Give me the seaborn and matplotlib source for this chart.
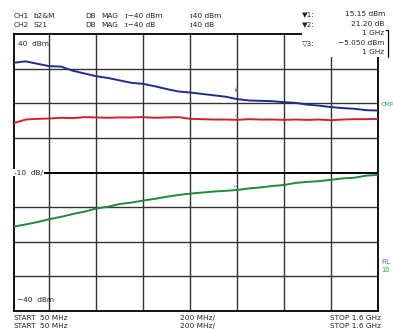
import matplotlib
matplotlib.use("Agg")
import matplotlib.pyplot as plt
import matplotlib.patches as mpatches
import seaborn as sns
import pandas as pd

# Frequency points (MHz)
freq_mhz = [50, 100, 150, 200, 250, 300, 350, 400, 450, 500, 550, 600, 650, 700, 750, 800,
            850, 900, 950, 1000, 1050, 1100, 1150, 1200, 1250, 1300, 1350, 1400, 1450, 1500, 1550, 1600]

# CH2 S21 (dB)
s21_db = [31.7, 32.1, 31.4, 30.7, 30.6, 29.4, 28.6, 27.8, 27.3, 26.6, 25.9, 25.6, 24.9, 24.1, 23.4, 23.1,
          22.7, 22.3, 21.9, 21.2, 20.8, 20.7, 20.6, 20.3, 20.1, 19.6, 19.3, 18.9, 18.6, 18.4, 18.0, 17.9]

# CH1 b2&M (dBm)
b2m_dbm = [14.3, 15.3, 15.5, 15.6, 15.8, 15.7, 16.0, 15.9, 15.8, 15.9, 15.9, 16.0, 15.8, 15.9, 16.0, 15.5,
           15.4, 15.3, 15.3, 15.2, 15.4, 15.3, 15.3, 15.2, 15.3, 15.2, 15.3, 15.1, 15.3, 15.4, 15.4, 15.5]

# memory trace (dBm)
mem_dbm = [-15.6, -15.0, -14.3, -13.5, -12.8, -12.0, -11.3, -10.4, -9.9, -9.1, -8.7, -8.1, -7.6, -7.0, -6.5, -6.1,
           -5.8, -5.5, -5.3, -5.05, -4.6, -4.3, -3.9, -3.6, -3.0, -2.7, -2.5, -2.1, -1.7, -1.5, -0.9, -0.7]

trace_names = ["S21", "b2&M", "MEM"]
trace_colors = ["#1f2d8a", "#d21f2b", "#1e8a3c"]

x_gridlines = [200, 400, 600, 800, 1000, 1200, 1400]
y_gridlines = [-30, -20, -10, 10, 20, 30]

W, H = 393, 329


def fx(px):
    return px / W


def fy(py):
    return 1 - py / H


def main():
    sns.set_theme(style="white")
    plt.rcParams["font.family"] = ["DejaVu Sans"]

    df = pd.concat([
        pd.DataFrame({"freq": freq_mhz, "value": s21_db, "trace": "S21"}),
        pd.DataFrame({"freq": freq_mhz, "value": b2m_dbm, "trace": "b2&M"}),
        pd.DataFrame({"freq": freq_mhz, "value": mem_dbm, "trace": "MEM"}),
    ])

    fig = plt.figure(figsize=(W / 100, H / 100), dpi=100)
    ax = fig.add_axes([fx(14), fy(311), (378 - 14) / W, (311 - 34) / H])

    sns.lineplot(data=df, x="freq", y="value", hue="trace", hue_order=trace_names,
                 palette=trace_colors, linewidth=1.4, legend=False, ax=ax, zorder=3)

    ax.set_xlim(50, 1600)
    ax.set_ylim(-40, 40)
    for xv in x_gridlines:
        ax.axvline(xv, color="#333333", lw=1.0, zorder=1)
    for yv in y_gridlines:
        ax.axhline(yv, color="#333333", lw=1.0, zorder=1)
    ax.axhline(0, color="black", lw=1.4, zorder=1)
    ax.set_xticks([])
    ax.set_yticks([])
    ax.set_xlabel("")
    ax.set_ylabel("")
    for sp in ax.spines.values():
        sp.set_color("black")
        sp.set_linewidth(1.3)

    fs = 5.3
    tc = "#222222"

    # labels inside graticule
    ax.text(0.012, 0.975, "40  dBm", transform=ax.transAxes, fontsize=fs, color=tc,
            va="top", ha="left", zorder=5)
    ax.text(0.008, 0.03, "\u221240  dBm", transform=ax.transAxes, fontsize=fs, color=tc,
            va="bottom", ha="left", zorder=5)
    ax.text(0.0, 0.5, "\u201010  dB/", transform=ax.transAxes, fontsize=fs, color=tc,
            va="center", ha="left", zorder=5,
            bbox=dict(facecolor="white", edgecolor="none", pad=0.6))

    # marker glyphs at 1 GHz
    ax.text(1000, 23.5, "\u25bc2", fontsize=3, color="#5a5aa0", rotation=90,
            ha="center", va="bottom", zorder=4)
    ax.text(1000, 16.2, "1", fontsize=3, color="#5a5aa0", rotation=90,
            ha="center", va="bottom", zorder=4)
    ax.text(1000, -4.3, "3", fontsize=3, color="#5a5aa0", rotation=90,
            ha="center", va="bottom", zorder=4)

    # header
    fig.text(fx(14), fy(16), "CH1", fontsize=fs, color=tc, va="center")
    fig.text(fx(33), fy(16), "b2&M", fontsize=fs, color=tc, va="center")
    fig.text(fx(85), fy(16), "DB", fontsize=fs, color=tc, va="center")
    fig.text(fx(101), fy(16), "MAG", fontsize=fs, color=tc, va="center")
    fig.text(fx(125), fy(16), "\u026a\u221240 dBm", fontsize=fs, color=tc, va="center")
    fig.text(fx(190), fy(16), "\u026a40 dBm", fontsize=fs, color=tc, va="center")

    fig.text(fx(14), fy(25), "CH2", fontsize=fs, color=tc, va="center")
    fig.text(fx(33), fy(25), "S21", fontsize=fs, color=tc, va="center")
    fig.text(fx(85), fy(25), "DB", fontsize=fs, color=tc, va="center")
    fig.text(fx(101), fy(25), "MAG", fontsize=fs, color=tc, va="center")
    fig.text(fx(125), fy(25), "\u026a\u221240 dB", fontsize=fs, color=tc, va="center")
    fig.text(fx(190), fy(25), "\u026a40 dB", fontsize=fs, color=tc, va="center")

    # marker readout box (covers top-right of graticule)
    fig.patches.append(mpatches.Rectangle((fx(302), fy(57)), 1 - fx(302), fy(0) - fy(57) + 0.01,
                                          transform=fig.transFigure, facecolor="white",
                                          edgecolor="none", zorder=10))
    fig.text(fx(302), fy(14), "\u25bc1:", fontsize=fs, color=tc, va="center", zorder=11)
    fig.text(fx(385), fy(14), "15.15 dBm", fontsize=fs, color=tc, va="center", ha="right", zorder=11)
    fig.text(fx(302), fy(24), "\u25bc2:", fontsize=fs, color=tc, va="center", zorder=11)
    fig.text(fx(384), fy(24), "21.20 dB", fontsize=fs, color=tc, va="center", ha="right", zorder=11)
    fig.text(fx(384), fy(33), "1 GHz", fontsize=fs, color=tc, va="center", ha="right", zorder=11)
    fig.text(fx(302), fy(43), "\u25bd3:", fontsize=fs, color=tc, va="center", zorder=11)
    fig.text(fx(385), fy(43), "\u22125.050 dBm", fontsize=fs, color=tc, va="center", ha="right", zorder=11)
    fig.text(fx(384), fy(52), "1 GHz", fontsize=fs, color=tc, va="center", ha="right", zorder=11)
    fig.lines.append(plt.Line2D([fx(386), fx(388), fx(388)], [fy(30), fy(30), fy(57)],
                                transform=fig.transFigure, color="black", lw=0.9, zorder=11))

    # right side annotations
    gc = "#2f9a3f"
    fig.text(fx(380.5), fy(105), "CMP", fontsize=4.6, color=gc, va="center")
    fig.text(fx(381), fy(262), "FIL", fontsize=4.8, color=gc, va="center")
    fig.text(fx(381), fy(270), "10", fontsize=4.8, color=gc, va="center")

    # footer
    fig.text(fx(14), fy(318), "START", fontsize=fs, color=tc, va="center")
    fig.text(fx(40), fy(318), "50 MHz", fontsize=fs, color=tc, va="center")
    fig.text(fx(14), fy(326), "START", fontsize=fs, color=tc, va="center")
    fig.text(fx(40), fy(326), "50 MHz", fontsize=fs, color=tc, va="center")
    fig.text(fx(180), fy(318), "200 MHz/", fontsize=fs, color=tc, va="center")
    fig.text(fx(180), fy(326), "200 MHz/", fontsize=fs, color=tc, va="center")
    fig.text(fx(381), fy(318), "STOP 1.6 GHz", fontsize=fs, color=tc, va="center", ha="right")
    fig.text(fx(381), fy(326), "STOP 1.6 GHz", fontsize=fs, color=tc, va="center", ha="right")

    fig.savefig("out.png", dpi=100)


if __name__ == "__main__":
    main()
